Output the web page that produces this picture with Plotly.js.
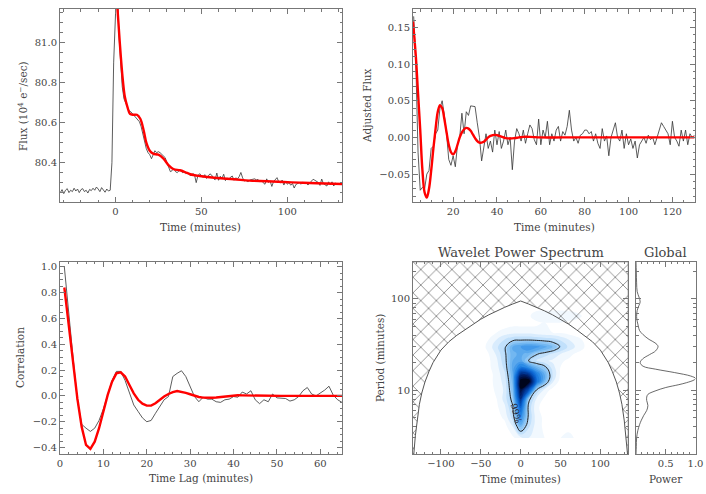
<!DOCTYPE html>
<html>
<head>
<meta charset="utf-8">
<script src="https://cdn.plot.ly/plotly-3.0.1.min.js"></script>
<style>
  html, body { margin: 0; padding: 0; background: #fff; }
  #chart { width: 706px; height: 494px; }
</style>
</head>
<body>
<div id="chart"></div>
<script>
// light curve (1 minute cadence, starts at -32 min)
const lcStart = -32;
const lcFlux = [
  80.250, 80.265, 80.245, 80.262, 80.270, 80.250, 80.262, 80.255, 80.272, 80.258,
  80.268, 80.250, 80.265, 80.270, 80.255, 80.262, 80.248, 80.266, 80.260, 80.272,
  80.262, 80.278, 80.268, 80.255, 80.275, 80.262, 80.252, 80.268, 80.258, 80.262,
  80.40, 80.90, 81.25, 81.35, 81.05, 80.88, 80.78, 80.72, 80.70, 80.68,
  80.66, 80.655, 80.645, 80.64, 80.625, 80.615, 80.605, 80.58, 80.54, 80.51,
  80.47, 80.45, 80.44, 80.42, 80.445, 80.46, 80.45, 80.455, 80.45, 80.44,
  80.435, 80.425, 80.40, 80.38, 80.355, 80.36, 80.37, 80.355, 80.35, 80.36,
  80.362, 80.35, 80.355, 80.345, 80.35, 80.34, 80.335, 80.345, 80.34, 80.30,
  80.335, 80.345,
  80.337, 80.326, 80.340, 80.321, 80.333, 80.344, 80.338, 80.322, 80.314, 80.348,
  80.312, 80.332, 80.321, 80.342, 80.310, 80.324, 80.314, 80.328, 80.333, 80.312,
  80.324, 80.319, 80.330, 80.351, 80.324, 80.308, 80.312, 80.303, 80.313, 80.315,
  80.319, 80.319, 80.314, 80.316, 80.303, 80.313, 80.299, 80.292, 80.319, 80.301,
  80.308, 80.281, 80.305, 80.315, 80.325, 80.304, 80.299, 80.313, 80.288, 80.308,
  80.292, 80.300, 80.287, 80.296, 80.273, 80.291, 80.295, 80.300, 80.292, 80.302,
  80.296, 80.299, 80.288, 80.298, 80.310, 80.317, 80.312, 80.307, 80.301, 80.286,
  80.318, 80.295, 80.290, 80.283, 80.304, 80.289, 80.304, 80.283, 80.298, 80.293,
  80.296
];
const fitTime = [1, 2.5, 4, 5.5, 7, 8.5, 10.5, 12.5, 14.5, 16.5, 18, 20, 22, 25, 28, 31, 34, 37.5, 40.5, 43.5, 49, 59, 69, 78, 88, 98, 107, 117, 132];
const fitFlux = [81.2, 81.01, 80.845, 80.73, 80.68, 80.645, 80.64, 80.64, 80.62, 80.56, 80.50, 80.46, 80.445, 80.44, 80.42, 80.387, 80.367, 80.362, 80.353, 80.342, 80.333, 80.323, 80.317, 80.31, 80.307, 80.303, 80.30, 80.297, 80.293];

// detrended flux (1 minute cadence, starts at 2 min)
const adjStart = 2;
const adjFlux = [
  0.165, 0.10, -0.02, -0.072, -0.068, -0.07, -0.05, -0.045, -0.015, -0.012,
  0.005, 0.01, 0.04, 0.05, 0.03, 0.005, -0.03, -0.038, -0.025, -0.04,
  -0.01, 0.0, 0.033, 0.005, 0.035, 0.03, 0.043, 0.043, 0.042, 0.02,
  0.0, -0.032, -0.01, 0.005, -0.015, -0.005, -0.02, 0.01, -0.01, 0.008,
  -0.015, -0.005, 0.01, -0.01, 0.0, -0.044, -0.005, 0.012,
  0.005, -0.005, 0.01, -0.008, 0.005, 0.017, 0.012, -0.003, -0.01, 0.025,
  -0.01, 0.01, 0.0, 0.022, -0.01, 0.005, -0.005, 0.01, 0.015, -0.005,
  0.008, 0.003, 0.015, 0.037, 0.01, -0.005, 0.0, -0.008, 0.003, 0.005,
  0.01, 0.01, 0.005, 0.008, -0.005, 0.005, -0.008, -0.015, 0.012, -0.005,
  0.002, -0.025, 0.0, 0.01, 0.02, 0.0, -0.005, 0.01, -0.015, 0.005,
  -0.01, -0.002, -0.015, -0.005, -0.028, -0.01, -0.005, 0.0, -0.008, 0.003,
  -0.003, 0.0, -0.01, 0.0, 0.012, 0.02, 0.015, 0.01, 0.005, -0.01,
  0.022, 0.0, -0.005, -0.012, 0.01, -0.005, 0.01, -0.01, 0.005, 0.0,
  0.003
];
const dampTime = [1.7, 3, 4, 5, 6, 7, 8, 9, 10, 11, 12, 13, 14, 15, 16, 17, 18, 19, 20, 21, 22, 23, 24, 25, 26, 27, 28, 29, 30, 31, 32, 33, 34, 35, 36, 37, 38, 39, 40, 42, 44, 46, 48, 50, 52, 55, 60, 70, 130];
const dampFlux = [0.158, 0.11, 0.06, 0.01, -0.045, -0.075, -0.082, -0.07, -0.045, -0.015, 0.012, 0.035, 0.044, 0.04, 0.025, 0.007, -0.01, -0.02, -0.023, -0.019, -0.01, 0.0, 0.007, 0.011, 0.013, 0.012, 0.009, 0.004, -0.001, -0.005, -0.007, -0.007, -0.006, -0.003, 0, 0.002, 0.003, 0.0035, 0.003, 0.001, -0.001, -0.0015, -0.001, 0, 0.0008, 0.0008, 0, 0, 0];

// autocorrelation, lags 1..65 min
const lagStart = 1;
const corrData = [
  1.0, 0.62, 0.3, -0.03, -0.22, -0.25, -0.275, -0.25, -0.19, -0.1,
  0.02, 0.12, 0.19, 0.19, 0.12, 0.02, -0.07, -0.12, -0.17, -0.2,
  -0.19, -0.135, -0.08, -0.03, -0.005, 0.15, 0.175, 0.195, 0.15, 0.07,
  -0.005, -0.045, -0.01, -0.025, -0.025, -0.045, -0.05, -0.03, -0.025, -0.005,
  -0.01, 0.03, 0.015, 0.04, -0.03, -0.06, -0.03, -0.045, 0.015, -0.015,
  -0.02, -0.02, -0.04, -0.03, -0.005, 0.04, 0.065, 0.015, 0.0, 0.02,
  0.045, 0.075, 0.005, -0.03, -0.05
];
const corrFit = [
  0.84, 0.55, 0.25, -0.02, -0.24, -0.38, -0.41, -0.355, -0.25, -0.12,
  0.008, 0.11, 0.175, 0.183, 0.15, 0.085, 0.02, -0.03, -0.06, -0.075,
  -0.075, -0.057, -0.03, -0.005, 0.015, 0.03, 0.038, 0.033, 0.023, 0.013,
  0.0, -0.008, -0.013, -0.015, -0.014, -0.012, -0.008, -0.003, 0.002, 0.004,
  0.005, 0.004, 0.003, 0.002, 0.001, 0, -0.001, -0.001, -0.001, -0.001,
  0, 0, 0, 0, 0, 0, 0, 0, 0, 0,
  0, 0, 0, 0, 0
];

// wavelet power (normalised), rows = period, columns = time
const wavTime = [-50, -40, -30, -20, -10, 0, 10, 20, 30, 40, 50, 60, 70, 80, 90];
const wavPeriod = [3, 4, 5, 6.5, 8, 10, 12.5, 15, 18, 21, 25, 27.5, 30, 36, 43, 55, 65, 80];
const wavPower = [
  [0, 0, 0, 0, 0.02, 0.06, 0.08, 0.05, 0.03, 0.02, 0.03, 0.05, 0.02, 0, 0],
  [0, 0, 0, 0.01, 0.08, 0.3, 0.14, 0.05, 0.02, 0.01, 0, 0.01, 0, 0, 0],
  [0, 0, 0.01, 0.04, 0.15, 0.45, 0.18, 0.05, 0.02, 0, 0, 0, 0, 0, 0],
  [0, 0, 0.02, 0.07, 0.19, 0.6, 0.17, 0.04, 0.01, 0, 0, 0, 0, 0, 0],
  [0, 0, 0.03, 0.1, 0.23, 0.78, 0.23, 0.07, 0.02, 0, 0, 0, 0, 0, 0],
  [0, 0.01, 0.04, 0.09, 0.27, 0.92, 0.66, 0.18, 0.06, 0.01, 0, 0, 0, 0, 0],
  [0, 0.01, 0.05, 0.1, 0.3, 0.98, 1.0, 0.56, 0.3, 0.09, 0.01, 0, 0, 0, 0],
  [0, 0.01, 0.05, 0.12, 0.33, 0.8, 0.76, 0.5, 0.33, 0.13, 0.02, 0, 0, 0, 0],
  [0, 0.02, 0.06, 0.15, 0.35, 0.5, 0.42, 0.3, 0.22, 0.1, 0.03, 0, 0, 0, 0],
  [0, 0.02, 0.07, 0.17, 0.33, 0.36, 0.2, 0.12, 0.09, 0.07, 0.04, 0.02, 0, 0, 0],
  [0, 0.03, 0.09, 0.18, 0.32, 0.34, 0.31, 0.21, 0.16, 0.12, 0.08, 0.05, 0.02, 0, 0],
  [0, 0.04, 0.11, 0.19, 0.33, 0.37, 0.39, 0.34, 0.28, 0.22, 0.15, 0.09, 0.05, 0.02, 0],
  [0, 0.05, 0.12, 0.18, 0.33, 0.38, 0.42, 0.4, 0.35, 0.28, 0.19, 0.12, 0.07, 0.03, 0],
  [0, 0.03, 0.08, 0.13, 0.17, 0.18, 0.18, 0.17, 0.16, 0.15, 0.12, 0.08, 0.05, 0.02, 0],
  [0, 0.01, 0.03, 0.05, 0.06, 0.06, 0.06, 0.05, 0.04, 0.03, 0.02, 0.01, 0, 0, 0],
  [0, 0, 0, 0, 0.01, 0.01, 0.01, 0.02, 0.03, 0.03, 0.03, 0.02, 0.01, 0, 0],
  [0, 0, 0, 0, 0, 0, 0.02, 0.06, 0.07, 0.07, 0.07, 0.06, 0.05, 0.02, 0],
  [0, 0, 0, 0, 0, 0, 0, 0.01, 0.01, 0.01, 0.01, 0.01, 0, 0, 0]
];
const sigLevel = 0.2;

// cone of influence
const coiTime = [-135, -134, -132, -130, -127, -124, -120, -115, -110, -100, -90, -80, -70, -60, -50, -40, -30, -20, -10, 0,
  10, 20, 30, 40, 50, 60, 70, 80, 90, 100, 110, 115, 120, 124, 127, 130, 132, 134, 135];
const coiPeriod = [2, 2.0, 3.2, 4.6, 7.0, 9.3, 12.3, 16, 20, 27.5, 34, 40, 46, 53, 60, 67, 74, 81, 88, 95,
  88, 81, 74, 67, 60, 53, 46, 40, 34, 27.5, 20, 16, 12.3, 9.3, 7.0, 4.6, 3.2, 2.0, 2];
const timeExtent = [-135, 135];
const periodExtent = [2, 256];

// global wavelet spectrum
const globPeriod = [2, 2.4, 3, 3.6, 4.2, 4.7, 5.3, 6.0, 6.8, 7.7, 8.4, 9.0, 9.8, 10.7, 11.5, 12.1, 13.0, 13.5, 14.3, 15.6, 17, 18.3, 20, 22, 24.6, 27, 30.3, 33, 36, 40.6, 45, 50, 57, 64, 75, 85, 93, 105, 120, 150, 200, 256];
const globPower = [0, 0.005, 0.01, 0.03, 0.06, 0.09, 0.13, 0.18, 0.2, 0.18, 0.18, 0.2, 0.32, 0.5, 0.72, 0.85, 0.98, 1.0, 0.92, 0.65, 0.33, 0.12, 0.07, 0.11, 0.23, 0.33, 0.37, 0.32, 0.22, 0.12, 0.06, 0.04, 0.02, 0.01, 0.02, 0.05, 0.07, 0.05, 0.02, 0.01, 0.005, 0];

const FONT = "DejaVu Serif, Liberation Serif, serif";
const TXT = "#444";
const AX = "#777";
const W = 706, H = 494;

function px(x) { return x / W; }
function py(y) { return 1 - y / H; }

function seq(start, n) {
  const out = [];
  for (let i = 0; i < n; i++) out.push(start + i);
  return out;
}

function minorTicks(extra) {
  return Object.assign({ ticks: "inside", ticklen: 2.5, tickcolor: AX, tickwidth: 1, showgrid: false }, extra);
}

function axis(extra) {
  return Object.assign({
    showline: true,
    linecolor: AX,
    linewidth: 1,
    mirror: "allticks",
    ticks: "inside",
    ticklen: 5,
    tickwidth: 1,
    tickcolor: AX,
    showgrid: false,
    zeroline: false,
    fixedrange: true,
    tickfont: { family: FONT, size: 10, color: TXT }
  }, extra);
}

const thin = { color: "#333", width: 0.8 };
const fat = { color: "#ff0000", width: 2.4 };

const traces = [
  { type: "scatter", mode: "lines", x: seq(lcStart, lcFlux.length), y: lcFlux, xaxis: "x", yaxis: "y", line: thin },
  { type: "scatter", mode: "lines", x: fitTime, y: fitFlux, xaxis: "x", yaxis: "y", line: Object.assign({ shape: "spline" }, fat) },

  { type: "scatter", mode: "lines", x: seq(adjStart, adjFlux.length), y: adjFlux, xaxis: "x2", yaxis: "y2", line: thin },
  { type: "scatter", mode: "lines", x: dampTime, y: dampFlux, xaxis: "x2", yaxis: "y2", line: Object.assign({ shape: "spline" }, fat) },

  { type: "scatter", mode: "lines", x: seq(lagStart, corrData.length), y: corrData, xaxis: "x3", yaxis: "y3", line: thin },
  { type: "scatter", mode: "lines", x: seq(lagStart, corrFit.length), y: corrFit, xaxis: "x3", yaxis: "y3", line: fat },

  {
    type: "contour", x: wavTime, y: wavPeriod, z: wavPower, xaxis: "x4", yaxis: "y4",
    zmin: 0, zmax: 1, showscale: false, hoverinfo: "skip",
    contours: { coloring: "fill", start: 0.03, end: 1.0, size: 0.05, showlines: false },
    line: { width: 0, smoothing: 1.3 },
    colorscale: [
      [0, "#ffffff"], [0.04, "#eaf4fe"], [0.15, "#b9dcfa"], [0.3, "#6db4f0"],
      [0.45, "#2a8ae6"], [0.6, "#0a62d0"], [0.75, "#003a9a"], [0.9, "#001450"], [1, "#000008"]
    ]
  },
  {
    type: "contour", x: wavTime, y: wavPeriod, z: wavPower, xaxis: "x4", yaxis: "y4",
    showscale: false, hoverinfo: "skip",
    contours: { coloring: "none", start: sigLevel, end: sigLevel, size: 1 },
    line: { color: "#222", width: 1, smoothing: 1.3 }
  },
  {
    type: "scatter", mode: "lines", xaxis: "x4", yaxis: "y4",
    x: coiTime.concat([timeExtent[1], timeExtent[0]]),
    y: coiPeriod.concat([periodExtent[1], periodExtent[1]]),
    fill: "toself", fillcolor: "rgba(0,0,0,0)",
    fillpattern: { shape: "x", size: 11, solidity: 0.1, fgcolor: "#444", bgcolor: "rgba(0,0,0,0)" },
    line: { color: "#555", width: 1 }
  },

  { type: "scatter", mode: "lines", x: globPower, y: globPeriod, xaxis: "x5", yaxis: "y5", line: { color: "#444", width: 0.8, shape: "spline" } }
];

const topY = [py(202), py(9)];
const botY = [py(454), py(261.7)];
const logRange = [Math.log10(periodExtent[0]), Math.log10(periodExtent[1])];

const layout = {
  width: W,
  height: H,
  margin: { l: 0, r: 0, t: 0, b: 0 },
  paper_bgcolor: "#fff",
  plot_bgcolor: "#fff",
  showlegend: false,
  font: { family: FONT, color: TXT },
  xaxis: axis({ domain: [px(60), px(342)], range: [-32.2, 131.8], anchor: "y", tick0: 0, dtick: 50, minor: minorTicks({ dtick: 10 }) }),
  yaxis: axis({ domain: topY, range: [80.203, 81.17], anchor: "x", tick0: 0, dtick: 0.2, tickformat: ".1f", minor: minorTicks({ dtick: 0.05 }) }),
  xaxis2: axis({ domain: [px(413), px(695)], range: [1.7, 130.3], anchor: "y2", tick0: 0, dtick: 20, minor: minorTicks({ dtick: 5 }) }),
  yaxis2: axis({ domain: topY, range: [-0.088, 0.175], anchor: "x2", tick0: 0, dtick: 0.05, tickformat: ".2f", minor: minorTicks({ dtick: 0.01 }) }),
  xaxis3: axis({ domain: [px(60), px(342)], range: [0, 65], anchor: "y3", tick0: 0, dtick: 10, minor: minorTicks({ dtick: 2 }) }),
  yaxis3: axis({ domain: botY, range: [-0.45, 1.04], anchor: "x3", tick0: 0, dtick: 0.2, tickformat: ".1f", minor: minorTicks({ dtick: 0.05 }) }),
  xaxis4: axis({ domain: [px(413), px(628.3)], range: timeExtent, anchor: "y4", tick0: 0, dtick: 50, minor: minorTicks({ dtick: 10 }) }),
  yaxis4: axis({ domain: botY, type: "log", range: logRange, anchor: "x4", tick0: 0, dtick: 1, minor: minorTicks({ dtick: "D1" }) }),
  xaxis5: axis({ domain: [px(636), px(695.5)], range: [0, 1], anchor: "y5", tickmode: "array", tickvals: [0.5, 1.0], ticktext: ["0.5", "1.0"], minor: minorTicks({ tickmode: "array", tickvals: [0.1, 0.2, 0.3, 0.4, 0.6, 0.7, 0.8, 0.9] }) }),
  yaxis5: axis({ domain: botY, type: "log", range: logRange, anchor: "x5", tick0: 0, dtick: 1, showticklabels: false, minor: minorTicks({ dtick: "D1" }) }),
  annotations: [
    { text: "Time (minutes)", x: px(201), y: py(227) },
    { text: "Time (minutes)", x: px(554), y: py(227) },
    { text: "Time Lag (minutes)", x: px(201), y: py(478) },
    { text: "Time (minutes)", x: px(520.5), y: py(479) },
    { text: "Power", x: px(665.5), y: py(479) },
    { text: "Flux (10<sup>4</sup> e<sup>\u2212</sup>/sec)", x: px(22), y: py(106), textangle: -90 },
    { text: "Adjusted Flux", x: px(367), y: py(106), textangle: -90 },
    { text: "Correlation", x: px(20), y: py(358), textangle: -90 },
    { text: "Period (minutes)", x: px(380), y: py(358), textangle: -90 },
    { text: "Wavelet Power Spectrum", x: px(520.5), y: py(252), size: 13 },
    { text: "Global", x: px(665.5), y: py(252), size: 13 }
  ].map((a) => ({
    text: a.text, x: a.x, y: a.y, xref: "paper", yref: "paper",
    xanchor: "center", yanchor: "middle", showarrow: false,
    textangle: a.textangle || 0,
    font: { family: FONT, size: a.size || 10.5, color: TXT }
  })).concat([{
    text: "99%", x: -6, y: Math.log10(5.6), xref: "x4", yref: "y4",
    xanchor: "center", yanchor: "middle", showarrow: false, textangle: 74,
    font: { family: FONT, size: 9, color: "#223" }
  }])
};

Plotly.newPlot("chart", traces, layout, { staticPlot: true, displayModeBar: false });
</script>
</body>
</html>
